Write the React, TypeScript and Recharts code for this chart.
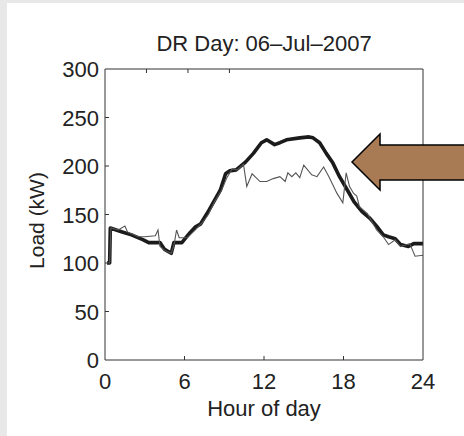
import { LineChart, Line, XAxis, YAxis } from "recharts";

// hour of day / load (kW) for the thick baseline curve
const baseHours = [0.15, 0.35, 0.4, 1.3, 2.0, 2.85, 3.3, 4.15, 4.5, 5.0, 5.2, 5.8, 6.4, 6.8, 7.2, 7.7, 8.2, 8.7, 9.1, 9.4, 9.9, 10.6, 11.2, 11.8, 12.2, 12.8, 13.2, 13.7, 14.7, 15.4, 15.7, 16.2, 16.7, 17.2, 17.7, 18.3, 18.8, 19.4, 20.0, 20.5, 21.0, 21.4, 21.9, 22.3, 22.9, 23.3, 24];
const baseLoad = [100, 100, 136, 132, 129, 124, 121, 121, 114, 110, 121, 121, 131, 137, 140, 151, 163, 175, 192, 195, 196, 204, 213, 224, 227, 222, 224, 227, 229, 230, 229, 224, 213, 203, 189, 175, 163, 153, 146, 138, 129, 127, 125, 119, 117, 120, 120];

// thin curve: metered load on the DR day
const actualHours = [0.15, 0.35, 0.45, 1.0, 1.5, 1.7, 2.5, 3.0, 3.8, 4.0, 4.15, 4.5, 5.0, 5.2, 5.4, 5.6, 6.2, 6.8, 7.3, 7.8, 8.3, 8.8, 9.2, 9.6, 10.0, 10.45, 10.7, 11.1, 11.7, 12.2, 12.7, 13.2, 13.6, 13.8, 14.1, 14.4, 14.7, 15.0, 15.6, 16.0, 16.5, 16.9, 17.5, 17.95, 18.2, 18.45, 18.75, 19.0, 19.2, 19.8, 20.5, 21.0, 21.4, 21.9, 22.3, 23.0, 23.4, 24];
const actualLoad = [100, 100, 136, 134, 138, 132, 127, 127, 128, 134, 117, 113, 110, 118, 134, 126, 126, 134, 141, 150, 164, 175, 188, 197, 196, 202, 179, 192, 184, 184, 187, 189, 184, 193, 189, 193, 188, 201, 191, 189, 199, 189, 172, 162, 193, 179, 172, 169, 158, 151, 134, 127, 119, 124, 117, 120, 107, 108];

const xTicks = [0, 6, 12, 18, 24];
const yTicks = [0, 50, 100, 150, 200, 250, 300];

const baseline = baseHours.map((h, i) => ({ h, v: baseLoad[i] }));
const actual = actualHours.map((h, i) => ({ h, v: actualLoad[i] }));

const FONT = "'Liberation Sans', Arial, Helvetica, sans-serif";
const INK = "#222";
const AXIS = "#333";

// matlab style: tick marks point into the box
function BottomTick({ x, y, payload }: any) {
  const edge = payload.value === 0 || payload.value === 24;
  return (
    <g>
      {!edge && <line x1={x} y1={y} x2={x} y2={y - 4} stroke={AXIS} />}
      <text x={x} y={y + 29} textAnchor="middle" fontSize={22} fontFamily={FONT} fill={INK}>
        {payload.value}
      </text>
    </g>
  );
}

function TopTick({ x, y, payload }: any) {
  if (payload.value === 0 || payload.value === 24) return <g />;
  return <line x1={x} y1={y} x2={x} y2={y + 4} stroke={AXIS} />;
}

function LeftTick({ x, y, payload }: any) {
  const edge = payload.value === 0 || payload.value === 300;
  return (
    <g>
      {!edge && <line x1={x} y1={y} x2={x + 4} y2={y} stroke={AXIS} />}
      <text x={x - 6} y={y + 8} textAnchor="end" fontSize={22} fontFamily={FONT} fill={INK}>
        {payload.value}
      </text>
    </g>
  );
}

function RightTick({ x, y, payload }: any) {
  if (payload.value === 0 || payload.value === 300) return <g />;
  return <line x1={x} y1={y} x2={x - 4} y2={y} stroke={AXIS} />;
}

function YTitle({ viewBox }: any) {
  const cy = viewBox.y + viewBox.height / 2 + 6;
  return (
    <text transform={`translate(37, ${cy}) rotate(-90)`} textAnchor="middle" dy="0.35em" fontSize={21} fontFamily={FONT} fill={INK}>
      Load (kW)
    </text>
  );
}

export default function App() {
  return (
    <div style={{ position: "absolute", left: 0, top: 0, width: 464, height: 436, background: "#e8e8e8" }}>
      <div style={{ position: "absolute", left: 7, top: 3, width: 457, height: 433, background: "#fff" }} />
      <div style={{ position: "absolute", left: 0, top: 0 }}>
        <LineChart width={464} height={436} data={baseline} margin={{ top: 68, right: 40, bottom: 75, left: 104 }}>
          <XAxis
            dataKey="h"
            type="number"
            domain={[0, 24]}
            ticks={xTicks}
            height={1}
            tickSize={0}
            tickMargin={0}
            tick={BottomTick}
            stroke={AXIS}
            label={{ value: "Hour of day", position: "bottom", offset: 39, fontSize: 22, fontFamily: FONT, fill: INK }}
          />
          <XAxis
            xAxisId="top"
            orientation="top"
            type="number"
            domain={[0, 24]}
            ticks={xTicks}
            height={1}
            tickSize={0}
            tickMargin={0}
            tick={TopTick}
            stroke={AXIS}
            label={{ value: "DR Day: 06\u2013Jul\u20132007", position: "top", offset: 17, fontSize: 22, fontFamily: FONT, fill: INK }}
          />
          <YAxis
            type="number"
            domain={[0, 300]}
            ticks={yTicks}
            width={1}
            tickSize={0}
            tickMargin={0}
            tick={LeftTick}
            stroke={AXIS}
            label={<YTitle />}
          />
          <YAxis
            yAxisId="right"
            orientation="right"
            type="number"
            domain={[0, 300]}
            ticks={yTicks}
            width={1}
            tickSize={0}
            tickMargin={0}
            tick={RightTick}
            stroke={AXIS}
          />
          <Line data={baseline} dataKey="v" type="linear" stroke="#1b1b1b" strokeWidth={3.6} strokeLinejoin="round" dot={false} isAnimationActive={false} />
          <Line data={actual} dataKey="v" type="linear" stroke="#555" strokeWidth={1.1} dot={false} isAnimationActive={false} />
        </LineChart>
      </div>
      <svg width={464} height={436} style={{ position: "absolute", left: 0, top: 0, pointerEvents: "none" }}>
        <polygon points="352,162 380,134 380,145 466,145 466,180 380,180 380,190" fill="#a97b55" stroke="#000" strokeWidth={1.5} strokeLinejoin="miter" />
      </svg>
    </div>
  );
}
